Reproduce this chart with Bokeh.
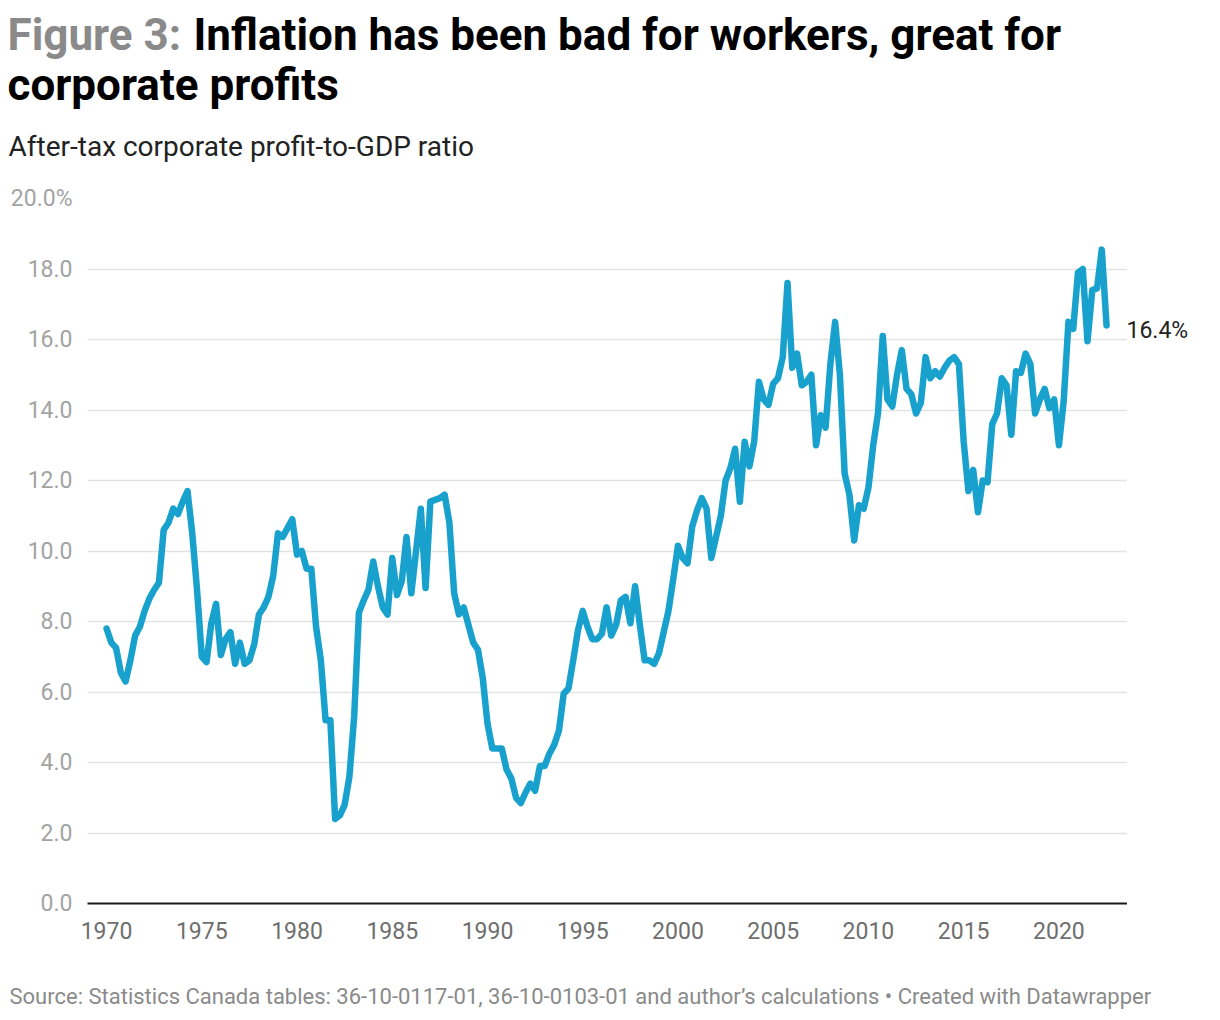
from bokeh.plotting import figure
from bokeh.layouts import column, row
from bokeh.models import Range1d, Label, NumeralTickFormatter, FixedTicker, ColumnDataSource
from bokeh.embed import file_html
from bokeh.resources import INLINE

# ---- data (quarterly, 1970Q1 - 2022Q3), after-tax corporate profit-to-GDP ratio, % ----
start_year = 1970
profit_ratio = [
    7.8, 7.4, 7.25, 6.55, 6.3, 6.9, 7.6, 7.85, 8.3, 8.65,
    8.9, 9.1, 10.6, 10.8, 11.2, 11.05, 11.4, 11.7, 10.5, 8.9,
    7.0, 6.85, 7.95, 8.5, 7.05, 7.5, 7.7, 6.8, 7.4, 6.8,
    6.9, 7.35, 8.2, 8.4, 8.7, 9.3, 10.5, 10.4, 10.65, 10.9,
    9.9, 10.0, 9.5, 9.5, 7.85, 6.9, 5.2, 5.2, 2.4, 2.5,
    2.8, 3.6, 5.3, 8.25, 8.6, 8.9, 9.7, 9.0, 8.4, 8.2,
    9.8, 8.75, 9.15, 10.4, 8.8, 10.0, 11.2, 8.95, 11.4, 11.45,
    11.5, 11.6, 10.8, 8.8, 8.2, 8.4, 7.9, 7.4, 7.2, 6.4,
    5.1, 4.4, 4.4, 4.4, 3.8, 3.55, 3.0, 2.85, 3.15, 3.4,
    3.2, 3.9, 3.9, 4.25, 4.5, 4.9, 5.95, 6.1, 6.9, 7.75,
    8.3, 7.85, 7.5, 7.5, 7.65, 8.4, 7.6, 7.9, 8.6, 8.7,
    7.95, 9.0, 7.9, 6.9, 6.9, 6.8, 7.1, 7.7, 8.3, 9.2,
    10.15, 9.8, 9.65, 10.7, 11.15, 11.5, 11.2, 9.8, 10.4, 11.0,
    12.0, 12.35, 12.9, 11.4, 13.1, 12.4, 13.1, 14.8, 14.3, 14.15,
    14.75, 14.9, 15.5, 17.6, 15.2, 15.6, 14.7, 14.8, 15.0, 13.0,
    13.85, 13.5, 15.3, 16.5, 15.0, 12.2, 11.6, 10.3, 11.3, 11.2,
    11.8, 13.0, 13.9, 16.1, 14.3, 14.1, 15.0, 15.7, 14.6, 14.45,
    13.9, 14.2, 15.5, 14.9, 15.1, 14.95, 15.2, 15.4, 15.5, 15.3,
    13.1, 11.7, 12.3, 11.1, 12.0, 11.95, 13.6, 13.9, 14.9, 14.7,
    13.3, 15.1, 15.05, 15.6, 15.3, 13.9, 14.3, 14.6, 14.05, 14.3,
    13.0, 14.25, 16.5, 16.3, 17.9, 18.0, 15.95, 17.4, 17.45, 18.55, 16.4,
]
years = [start_year + i / 4 for i in range(len(profit_ratio))]
x_ticks = [1970, 1975, 1980, 1985, 1990, 1995, 2000, 2005, 2010, 2015, 2020]
y_ticks = [0, 2, 4, 6, 8, 10, 12, 14, 16, 18, 20]

title_grey = "Figure 3:"
title_line1 = "Inflation has been bad for workers, great for"
title_line2 = "corporate profits"
subtitle = "After-tax corporate profit-to-GDP ratio"
footer = ("Source: Statistics Canada tables: 36-10-0117-01, 36-10-0103-01 and "
          "author\u2019s calculations \u2022 Created with Datawrapper")

# ---- layout (pixels) ----
W = 1220
HEAD_H = 175          # header strip height
MAIN_H = 785          # chart strip height (175 .. 960)
FOOT_H = 60           # footer strip height (960 .. 1020)
FL, FR = 87, 1127     # plot frame left / right
FT, FB = 198, 903     # plot frame top / bottom (page coords)
FONT = "Roboto"


def text_strip(width, height):
    f = figure(width=width, height=height, output_backend="svg", toolbar_location=None,
               title=None, x_axis_location=None, y_axis_location=None,
               x_range=Range1d(0, width), y_range=Range1d(height, 0),
               min_border=0)
    f.outline_line_color = None
    f.background_fill_color = "white"
    f.border_fill_color = "white"
    f.grid.visible = False
    return f


def add_text(f, text, x, y, size, color, style="normal"):
    f.add_layout(Label(x=x, y=y, text=text, text_font=FONT, text_font_size=f"{size}px",
                       text_color=color, text_font_style=style,
                       text_baseline="alphabetic", text_align="left"))


# header
head = text_strip(W, HEAD_H)
add_text(head, title_grey, 7, 34, 44, "#8a8a8a", "bold")
add_text(head, title_line1, 193, 34, 44, "#000000", "bold")
add_text(head, title_line2, 7, 84, 44, "#000000", "bold")
add_text(head, subtitle, 8, 146, 28, "#222222")

# main chart
src = ColumnDataSource(data=dict(year=years, ratio=profit_ratio))
yr = Range1d(0, 20)
p = figure(width=FR, height=MAIN_H, output_backend="svg", toolbar_location=None,
           title=None, x_range=Range1d(1969.0, 2023.6), y_range=yr,
           min_border_left=FL, min_border_right=0,
           min_border_top=FT - HEAD_H, min_border_bottom=HEAD_H + MAIN_H - FB)
p.outline_line_color = None
p.background_fill_color = "white"
p.border_fill_color = "white"

xa = p.xaxis[0]
xa.ticker = FixedTicker(ticks=x_ticks)
xa.axis_line_color = "#1a1a1a"
xa.axis_line_width = 2
xa.major_tick_line_color = None
xa.minor_tick_line_color = None
xa.major_label_text_font = FONT
xa.major_label_text_font_size = "23px"
xa.major_label_text_color = "#6e6e6e"
xa.major_label_standoff = 12

ya = p.yaxis[0]
ya.ticker = FixedTicker(ticks=y_ticks)
ya.formatter = NumeralTickFormatter(format="0.0")
ya.major_label_overrides = {20: "20.0%"}
ya.axis_line_color = None
ya.major_tick_line_color = None
ya.minor_tick_line_color = None
ya.major_label_text_font = FONT
ya.major_label_text_font_size = "23px"
ya.major_label_text_color = "#a3a3a3"
ya.major_label_standoff = 9

p.xgrid.grid_line_color = None
p.ygrid.grid_line_color = "#e3e3e3"
p.ygrid.grid_line_width = 1.5

p.line("year", "ratio", source=src, line_color="#18a1cd", line_width=6.5,
       line_join="round", line_cap="round")

# right strip carrying the end-value label (shares the y scale with the chart)
side = figure(width=W - FR, height=MAIN_H, output_backend="svg", toolbar_location=None,
              title=None, x_axis_location=None, y_axis_location=None,
              x_range=Range1d(0, W - FR), y_range=yr,
              min_border_left=0, min_border_right=0,
              min_border_top=FT - HEAD_H, min_border_bottom=HEAD_H + MAIN_H - FB)
side.outline_line_color = None
side.background_fill_color = "white"
side.border_fill_color = "white"
side.grid.visible = False
side.add_layout(Label(x=-1, y=profit_ratio[-1], y_offset=-5,
                      text=f"{profit_ratio[-1]:.1f}%", text_font=FONT,
                      text_font_size="23px", text_color="#222222",
                      text_baseline="middle", text_align="left"))

# footer
foot = text_strip(W, FOOT_H)
add_text(foot, footer, 9, 996 - HEAD_H - MAIN_H, 22, "#8a8a8a")

layout = column(head, row(p, side, spacing=0), foot, spacing=0)
open("out.html", "w").write(file_html(layout, INLINE))
